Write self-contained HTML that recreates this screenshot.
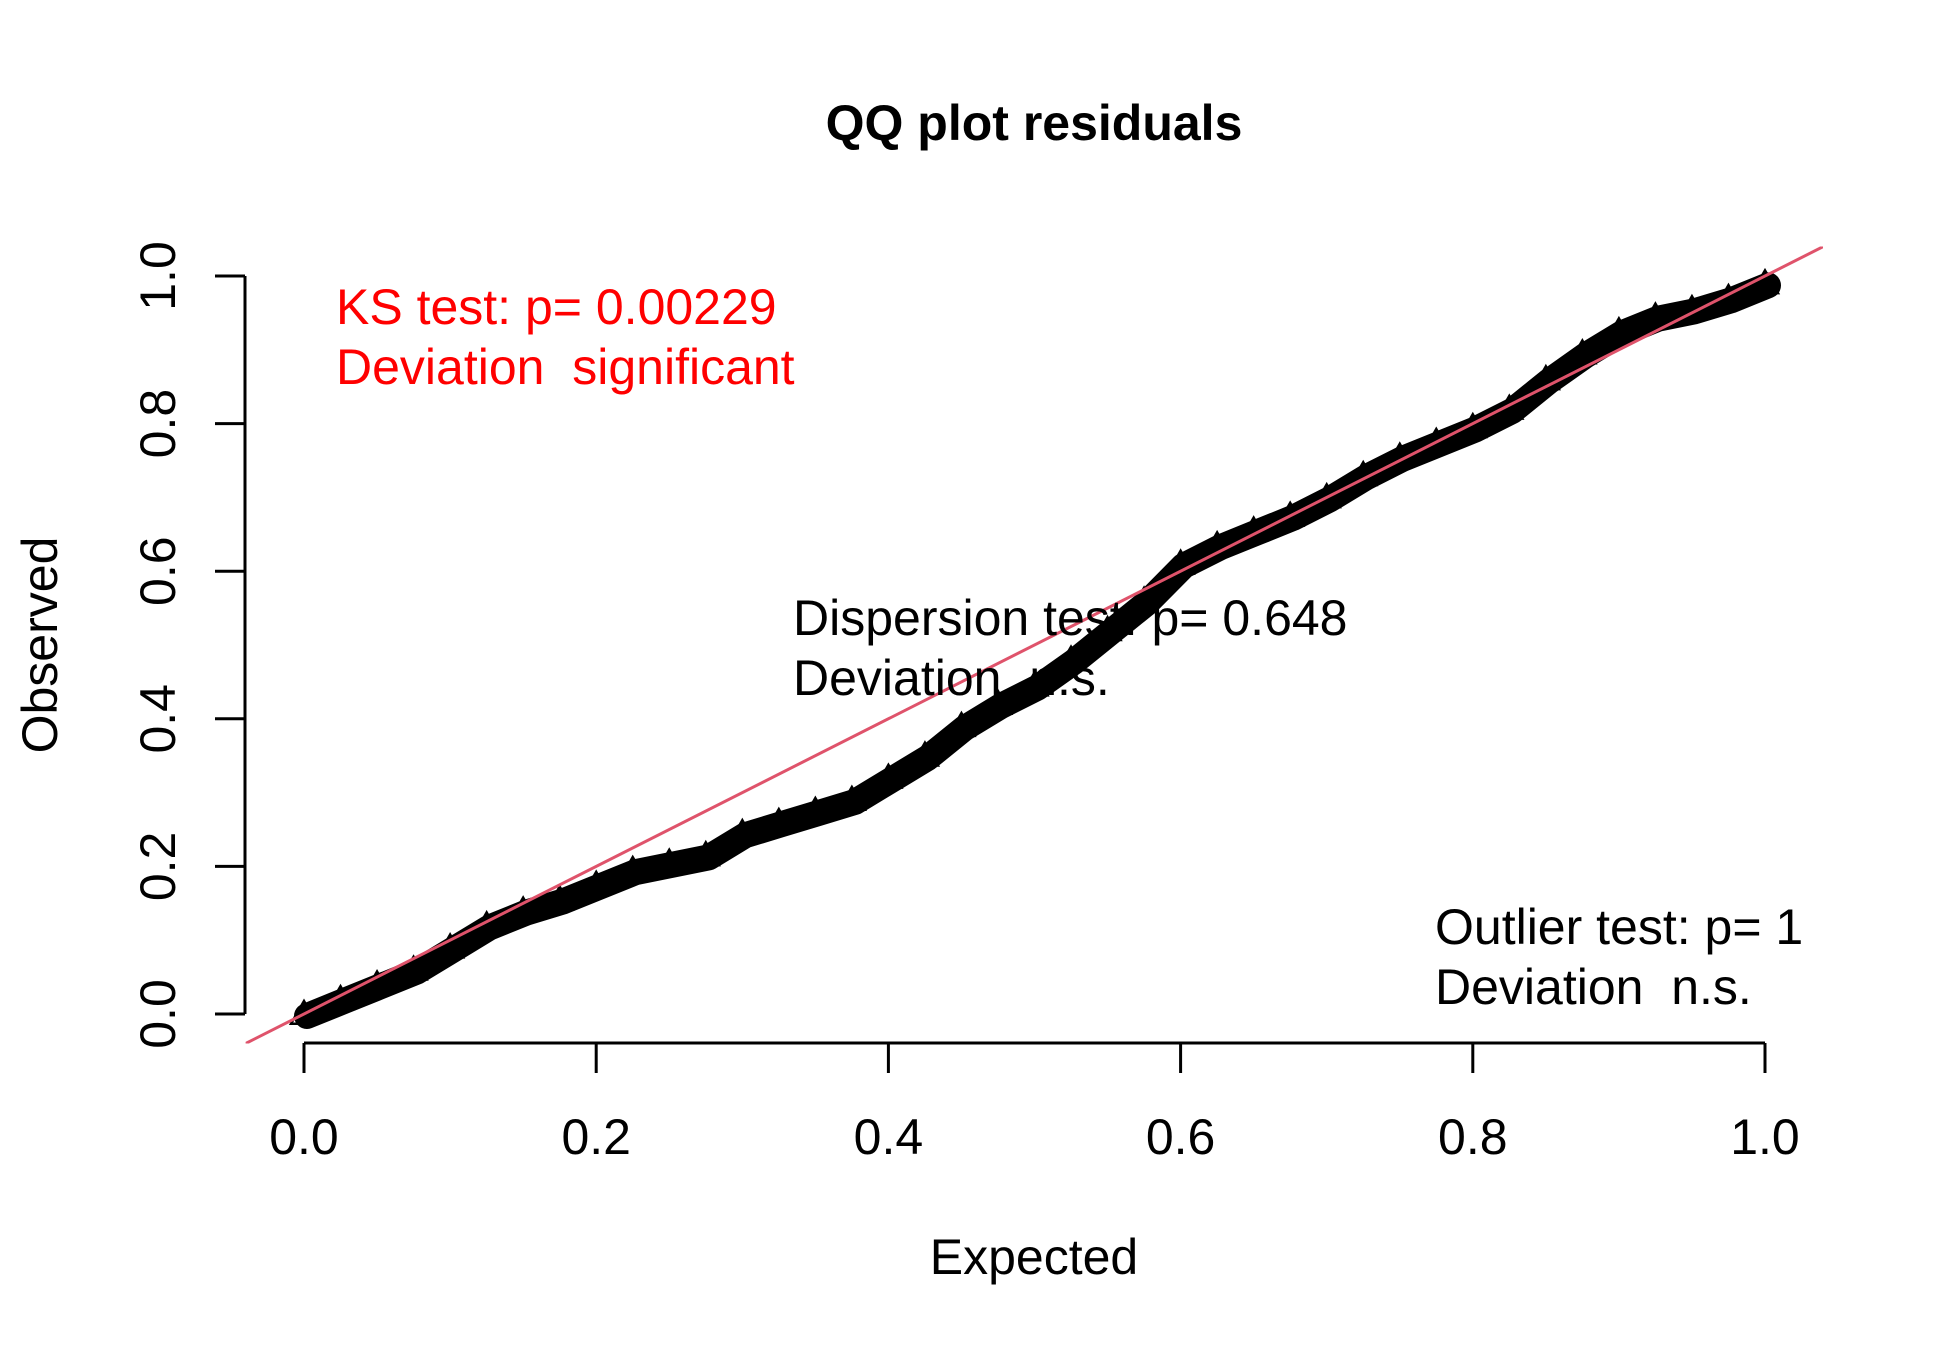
<!DOCTYPE html>
<html><head><meta charset="utf-8"><style>html,body{margin:0;padding:0;background:#fff}svg{display:block}text{font-family:"Liberation Sans",Arial,sans-serif}</style></head>
<body>
<svg id="chart" width="1950" height="1350" viewBox="0 0 1950 1350" xmlns="http://www.w3.org/2000/svg">
<rect width="1950" height="1350" fill="#fff"/>
<text x="1034" y="140" font-size="50" font-weight="bold" text-anchor="middle">QQ plot residuals</text>
<defs><clipPath id="plotclip"><rect x="245.6" y="246.5" width="1577.4" height="797"/></clipPath></defs>
<g id="points" clip-path="url(#plotclip)"></g>
<g id="refline" clip-path="url(#plotclip)"></g>
<g id="axes"></g>
<text x="336" y="324" font-size="50" fill="#FF0000">KS test: p= 0.00229</text>
<text x="336" y="384" font-size="50" fill="#FF0000" xml:space="preserve">Deviation  significant</text>
<text x="793" y="635" font-size="50">Dispersion test: p= 0.648</text>
<text x="793" y="695" font-size="50" xml:space="preserve">Deviation  n.s.</text>
<text x="1435" y="944" font-size="50">Outlier test: p= 1</text>
<text x="1435" y="1004" font-size="50" xml:space="preserve">Deviation  n.s.</text>
<text x="1034" y="1274" font-size="50" text-anchor="middle">Expected</text>
<text transform="translate(57,645) rotate(-90)" font-size="50" text-anchor="middle">Observed</text>
</svg>
<script>
const expected = [0,0.025,0.05,0.075,0.1,0.125,0.15,0.175,0.2,0.225,0.25,0.275,0.3,0.325,0.35,0.375,0.4,0.425,0.45,0.475,0.5,0.525,0.55,0.575,0.6,0.625,0.65,0.675,0.7,0.725,0.75,0.775,0.8,0.825,0.85,0.875,0.9,0.925,0.95,0.975,1.0];
const observed = [0.0,0.02,0.04,0.06,0.09,0.12,0.14,0.155,0.175,0.195,0.205,0.215,0.245,0.26,0.275,0.29,0.32,0.35,0.39,0.42,0.445,0.48,0.52,0.56,0.61,0.635,0.655,0.675,0.70,0.73,0.755,0.775,0.795,0.82,0.86,0.895,0.925,0.945,0.955,0.97,0.99];
const xTicks = [0,0.2,0.4,0.6,0.8,1.0];
const xTickLabels = ["0.0","0.2","0.4","0.6","0.8","1.0"];
const yTicks = [0,0.2,0.4,0.6,0.8,1.0];
const yTickLabels = ["0.0","0.2","0.4","0.6","0.8","1.0"];

const NS = "http://www.w3.org/2000/svg";
const X = v => 304 + v * 1461;
const Y = v => 1014 - v * 738;
function mk(tag, attrs, parent){const e=document.createElementNS(NS,tag);for(const k in attrs)e.setAttribute(k,attrs[k]);parent.appendChild(e);return e;}

const pts = document.getElementById('points');
let d = expected.map((e,i)=>(i?'L':'M')+(X(e)+3)+' '+(Y(observed[i])+2)).join(' ');
const band = mk('path',{d:d,fill:'none',stroke:'#000','stroke-width':26,'stroke-linejoin':'round','stroke-linecap':'round'},pts);


expected.forEach((e,i)=>{
  const cx=X(e), cy=Y(observed[i]), s=13;
  const t = mk('polygon',{points:`${cx},${cy-s} ${cx-s},${cy+s*0.75} ${cx+s},${cy+s*0.75}`,fill:'none',stroke:'#000','stroke-width':2.5},pts);
  
  
});

const rl = document.getElementById('refline');
const line = mk('line',{x1:X(-0.05),y1:Y(-0.05),x2:X(1.1),y2:Y(1.1),stroke:'#DF536B','stroke-width':3},rl);



const ax = document.getElementById('axes');
const xa = mk('path',{d:`M${X(0)} 1043 H${X(1)}`,stroke:'#000','stroke-width':3,fill:'none'},ax);


xTicks.forEach((v,i)=>{
  const tk = mk('line',{x1:X(v),y1:1043,x2:X(v),y2:1073,stroke:'#000','stroke-width':3},ax);
  
  
  const tx = mk('text',{x:X(v),y:1154,'font-size':50,'text-anchor':'middle'},ax);
  tx.textContent = xTickLabels[i];
  
  
});
const ya = mk('path',{d:`M245 ${Y(0)} V${Y(1)}`,stroke:'#000','stroke-width':3,fill:'none'},ax);


yTicks.forEach((v,i)=>{
  const tk = mk('line',{x1:215,y1:Y(v),x2:245,y2:Y(v),stroke:'#000','stroke-width':3},ax);
  
  
  const tx = mk('text',{transform:`translate(175,${Y(v)}) rotate(-90)`,'font-size':50,'text-anchor':'middle'},ax);
  tx.textContent = yTickLabels[i];
  
  
});
</script>
</body></html>
